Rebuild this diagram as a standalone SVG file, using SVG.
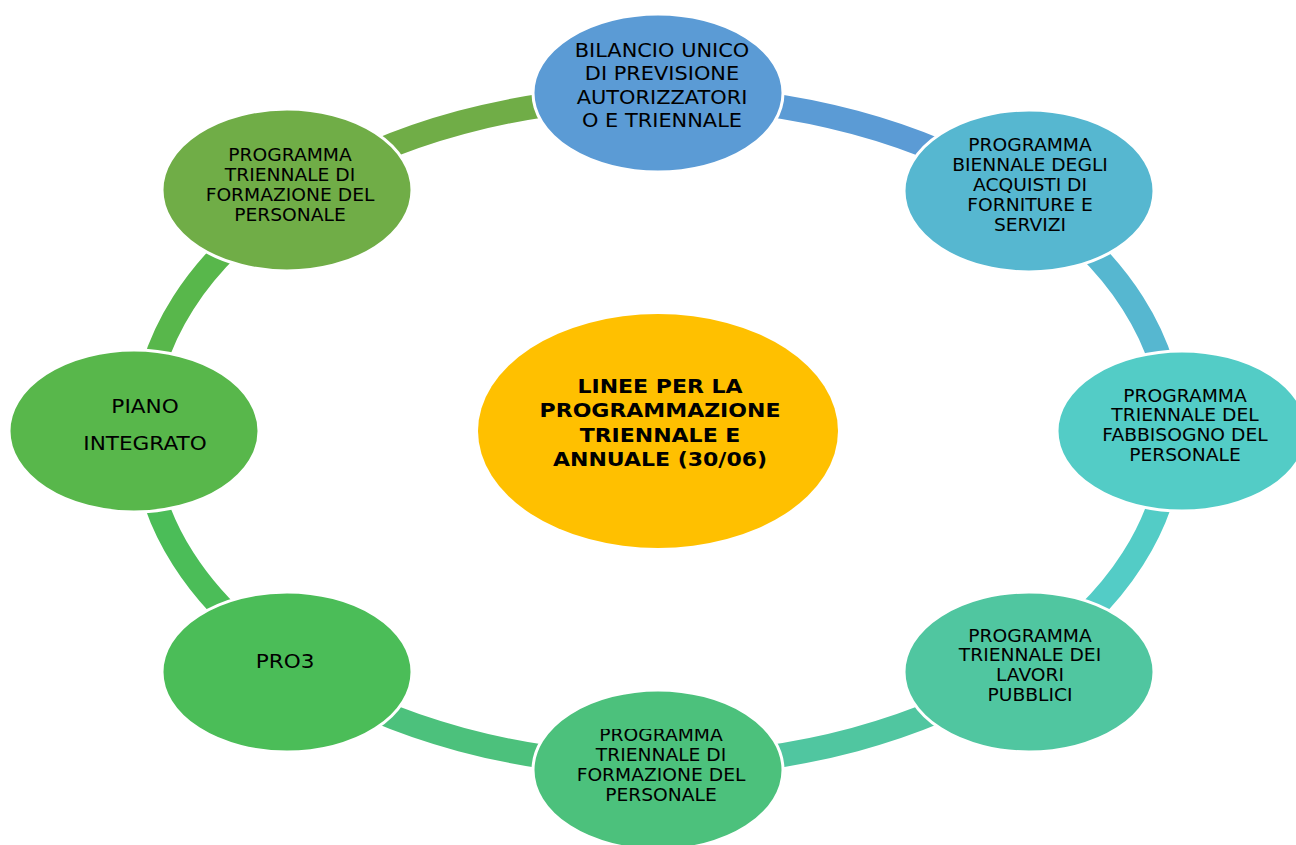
<svg xmlns="http://www.w3.org/2000/svg" width="1296" height="845" viewBox="0 0 1296 845">
<style>
.arc{fill:none;stroke-width:24;stroke-linecap:butt}
.node{stroke:#ffffff;stroke-width:3}
.t{font-family:"DejaVu Sans",Verdana,sans-serif;font-size:17px;fill:#000;text-anchor:middle}
.tb{font-size:19px}
.tl{font-size:20px}
.tc{font-family:"DejaVu Sans",Verdana,sans-serif;font-size:20px;font-weight:bold;fill:#000;text-anchor:middle}
</style>
<defs>
<clipPath id="clipBottom"><rect x="500" y="729" width="320" height="120"/></clipPath>
</defs>
<rect width="1296" height="845" fill="#ffffff"/>
<g id="connectors">
<path class="arc" stroke="#5b9bd5" d="M658 97 A514 334 0 0 1 1021.45 194.83"/>
<path class="arc" stroke="#56b7d0" d="M1021.45 194.83 A514 334 0 0 1 1172 431"/>
<path class="arc" stroke="#53ccc6" d="M1172 431 A514 334 0 0 1 1021.45 667.17"/>
<path class="arc" stroke="#50c6a0" d="M1021.45 667.17 A514 334 0 0 1 658 765"/>
<path class="arc" stroke="#4cc17c" d="M658 765 A514 334 0 0 1 294.55 667.17"/>
<path class="arc" stroke="#4bbd58" d="M294.55 667.17 A514 334 0 0 1 144 431"/>
<path class="arc" stroke="#58b74b" d="M144 431 A514 334 0 0 1 294.55 194.83"/>
<path class="arc" stroke="#70ad47" d="M294.55 194.83 A514 334 0 0 1 658 97"/>
</g>
<g id="center">
<ellipse cx="658" cy="431" rx="180" ry="117" fill="#ffc000"/>
<text class="tc" transform="translate(660 0) scale(1.1 1)"><tspan x="0" y="393">LINEE PER LA</tspan><tspan x="0" y="417">PROGRAMMAZIONE</tspan><tspan x="0" y="442">TRIENNALE E</tspan><tspan x="0" y="466">ANNUALE (30/06)</tspan></text>
</g>
<g id="node-bilancio">
<ellipse class="node" cx="658" cy="93" rx="125" ry="79" fill="#5b9bd5"/>
<text class="t tb" transform="translate(662 0) scale(1.1 1)"><tspan x="0" y="57">BILANCIO UNICO</tspan><tspan x="0" y="80">DI PREVISIONE</tspan><tspan x="0" y="104">AUTORIZZATORI</tspan><tspan x="0" y="127">O E TRIENNALE</tspan></text>
</g>
<g id="node-biennale">
<ellipse class="node" cx="1029" cy="191" rx="125" ry="81" fill="#56b7d0"/>
<text class="t" transform="translate(1030 0) scale(1.1 1)"><tspan x="0" y="151">PROGRAMMA</tspan><tspan x="0" y="171">BIENNALE DEGLI</tspan><tspan x="0" y="191">ACQUISTI DI</tspan><tspan x="0" y="211">FORNITURE E</tspan><tspan x="0" y="231">SERVIZI</tspan></text>
</g>
<g id="node-fabbisogno">
<ellipse class="node" cx="1182" cy="431" rx="125" ry="80" fill="#53ccc6"/>
<text class="t" transform="translate(1185 0) scale(1.1 1)"><tspan x="0" y="402">PROGRAMMA</tspan><tspan x="0" y="421">TRIENNALE DEL</tspan><tspan x="0" y="441">FABBISOGNO DEL</tspan><tspan x="0" y="461">PERSONALE</tspan></text>
</g>
<g id="node-lavori">
<ellipse class="node" cx="1029" cy="672" rx="125" ry="80" fill="#50c6a0"/>
<text class="t" transform="translate(1030 0) scale(1.1 1)"><tspan x="0" y="642">PROGRAMMA</tspan><tspan x="0" y="661">TRIENNALE DEI</tspan><tspan x="0" y="681">LAVORI</tspan><tspan x="0" y="701">PUBBLICI</tspan></text>
</g>
<g id="node-formazione-bottom">
<ellipse class="node" cx="658" cy="770" rx="125" ry="80" fill="#4cc17c"/>
<g clip-path="url(#clipBottom)">
<text class="t" transform="translate(661 0) scale(1.1 1)"><tspan x="0" y="741">PROGRAMMA</tspan><tspan x="0" y="761">TRIENNALE DI</tspan><tspan x="0" y="781">FORMAZIONE DEL</tspan><tspan x="0" y="801">PERSONALE</tspan></text>
</g>
</g>
<g id="node-pro3">
<ellipse class="node" cx="287" cy="672" rx="125" ry="80" fill="#4bbd58"/>
<text class="t tl" transform="translate(285 0) scale(1.08 1)"><tspan x="0" y="668">PRO3</tspan></text>
</g>
<g id="node-piano">
<ellipse class="node" cx="134" cy="431" rx="125" ry="81" fill="#58b74b"/>
<text class="t tl" transform="translate(145 0) scale(1.08 1)"><tspan x="0" y="413">PIANO</tspan><tspan x="0" y="450">INTEGRATO</tspan></text>
</g>
<g id="node-formazione-top">
<ellipse class="node" cx="287" cy="190" rx="125" ry="81" fill="#70ad47"/>
<text class="t" transform="translate(290 0) scale(1.1 1)"><tspan x="0" y="161">PROGRAMMA</tspan><tspan x="0" y="181">TRIENNALE DI</tspan><tspan x="0" y="201">FORMAZIONE DEL</tspan><tspan x="0" y="221">PERSONALE</tspan></text>
</g>
</svg>
